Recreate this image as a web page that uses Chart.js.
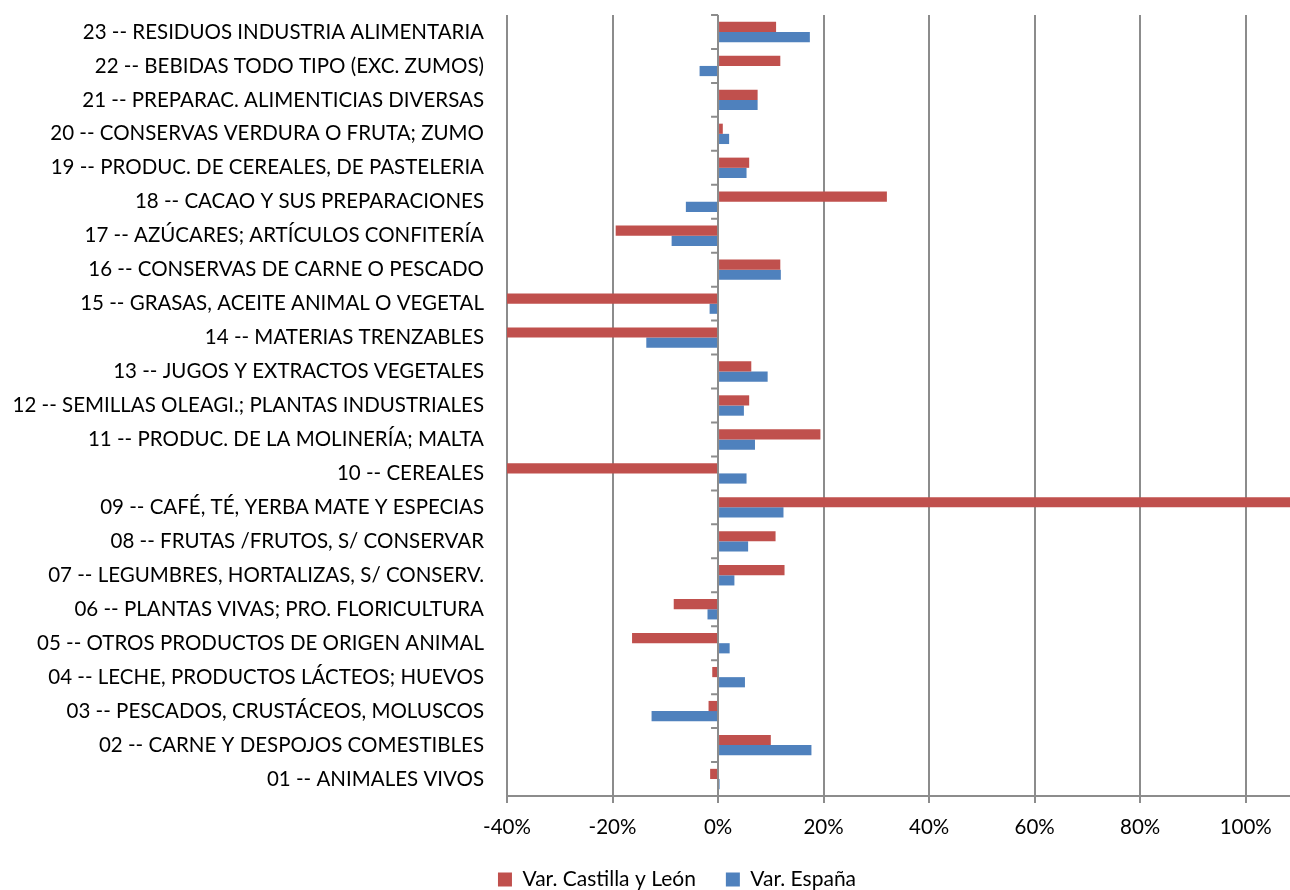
<!DOCTYPE html>
<html>
<head>
<meta charset="utf-8">
<script src="https://cdn.jsdelivr.net/npm/chart.js@4"></script>
<style>
  html, body { margin: 0; padding: 0; background: #fff; }
  #wrap { width: 1290px; height: 890px; }
</style>
</head>
<body>
<div id="wrap"><canvas id="chart"></canvas></div>
<script>
const categories = [
  "01 -- ANIMALES VIVOS",
  "02 -- CARNE Y DESPOJOS COMESTIBLES",
  "03 -- PESCADOS, CRUSTÁCEOS, MOLUSCOS",
  "04 -- LECHE, PRODUCTOS LÁCTEOS; HUEVOS",
  "05 -- OTROS PRODUCTOS DE ORIGEN ANIMAL",
  "06 -- PLANTAS VIVAS; PRO. FLORICULTURA",
  "07 -- LEGUMBRES, HORTALIZAS, S/ CONSERV.",
  "08 -- FRUTAS /FRUTOS, S/ CONSERVAR",
  "09 -- CAFÉ, TÉ, YERBA MATE Y ESPECIAS",
  "10 -- CEREALES",
  "11 -- PRODUC. DE LA MOLINERÍA; MALTA",
  "12 -- SEMILLAS OLEAGI.; PLANTAS INDUSTRIALES",
  "13 -- JUGOS Y EXTRACTOS VEGETALES",
  "14 -- MATERIAS TRENZABLES",
  "15 -- GRASAS, ACEITE ANIMAL O VEGETAL",
  "16 -- CONSERVAS DE CARNE O PESCADO",
  "17 -- AZÚCARES; ARTÍCULOS CONFITERÍA",
  "18 -- CACAO Y SUS PREPARACIONES",
  "19 -- PRODUC. DE CEREALES, DE PASTELERIA",
  "20 -- CONSERVAS VERDURA O FRUTA; ZUMO",
  "21 -- PREPARAC. ALIMENTICIAS DIVERSAS",
  "22 -- BEBIDAS TODO TIPO (EXC. ZUMOS)",
  "23 -- RESIDUOS INDUSTRIA ALIMENTARIA",
];

// variación en %, de 01 a 23 (los que salen del eje son estimados)
const varCastillaLeon = [
  -1.5, 10.0, -1.8, -1.1, -16.3, -8.4, 12.6, 10.9, 150, -60, 19.4, 5.9,
  6.3, -55, -52, 11.8, -19.4, 32.0, 5.9, 0.9, 7.5, 11.8, 11.0,
];
const varEspana = [
  0.3, 17.7, -12.6, 5.1, 2.2, -2.0, 3.1, 5.7, 12.4, 5.4, 7.0, 4.9,
  9.4, -13.6, -1.6, 11.9, -8.8, -6.1, 5.4, 2.1, 7.5, -3.5, 17.4,
];

const seriesNames = ["Var. Castilla y León", "Var. España"];
const xMin = -40;
const xMax = 108.4;
const xStep = 20;

const font = "Lato";
const gridColor = "#8c8c8c";

// ▼ marcas del eje vertical (en el 0) entre categorías
const categoryTicks = {
  id: "categoryTicks",
  beforeDatasetsDraw(chart) {
    const { ctx, chartArea, scales } = chart;
    const x0 = scales.x.getPixelForValue(0);
    const n = categories.length;
    const h = (chartArea.bottom - chartArea.top) / n;
    ctx.save();
    ctx.strokeStyle = gridColor;
    ctx.lineWidth = 2;
    ctx.beginPath();
    for (let i = 0; i <= n; i++) {
      const y = chartArea.top + i * h;
      ctx.moveTo(x0 - 7, y);
      ctx.lineTo(x0, y);
    }
    ctx.stroke();
    ctx.restore();
  },
};

// ▼ la leyenda va algo desplazada a la derecha en el original
const legendShift = {
  id: "legendShift",
  afterLayout(chart) {
    chart.legend.left += 32;
    chart.legend.right += 32;
  },
};

new Chart(document.getElementById("chart"), {
  type: "bar",
  data: {
    labels: categories,
    datasets: [
      {
        label: seriesNames[0],
        data: varCastillaLeon,
        backgroundColor: "#c0504d",
        barPercentage: 1,
        categoryPercentage: 0.6,
      },
      {
        label: seriesNames[1],
        data: varEspana,
        backgroundColor: "#4f81bd",
        barPercentage: 1,
        categoryPercentage: 0.6,
      },
    ],
  },
  options: {
    indexAxis: "y",
    responsive: true,
    maintainAspectRatio: false,
    animation: false,
    layout: { padding: { top: 15, right: 0, bottom: -10, left: 0 } },
    plugins: {
      tooltip: { enabled: false },
      legend: {
        position: "bottom",
        labels: {
          color: "#000",
          font: { family: font, size: 21 },
          boxWidth: 14,
          boxHeight: 14,
          padding: 30,
        },
      },
    },
    scales: {
      x: {
        min: xMin,
        max: xMax,
        // solo marcas cada 20 %, sin la del máximo
        afterBuildTicks: (scale) => {
          const ticks = [];
          for (let v = xMin; v <= xMax; v += xStep) ticks.push({ value: v });
          scale.ticks = ticks;
        },
        afterFit: (scale) => {
          scale.height = 43;
          scale.paddingLeft = 0;
          scale.paddingRight = 0;
        },
        ticks: {
          stepSize: xStep,
          color: "#000",
          font: { family: font, size: 20.5 },
          padding: 12,
          callback: (v) => v + "%",
        },
        grid: {
          color: gridColor,
          lineWidth: 2,
          tickLength: 7,
        },
        border: { color: gridColor, width: 2 },
      },
      y: {
        reverse: true,
        afterFit: (scale) => {
          scale.width = 507;
          scale.paddingTop = 0;
          scale.paddingBottom = 0;
        },
        ticks: {
          color: "#000",
          font: { family: font, size: 20.5 },
          padding: 23,
          autoSkip: false,
        },
        grid: { display: false, drawTicks: false },
        border: { display: false },
      },
    },
  },
  plugins: [categoryTicks, legendShift],
});
</script>
</body>
</html>
